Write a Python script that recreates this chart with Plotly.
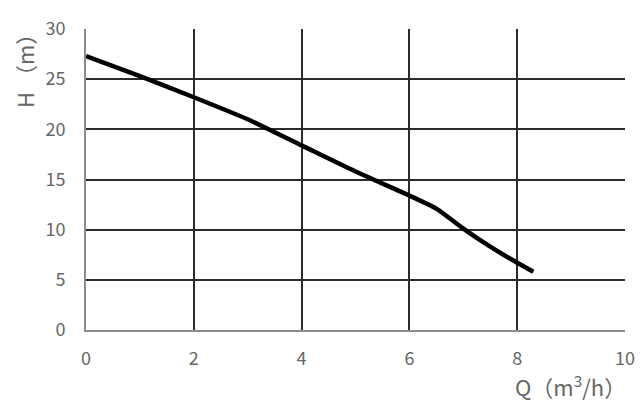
import plotly.graph_objects as go

flow_q = [0, 1, 2, 3, 4, 5, 6, 6.5, 7, 7.5, 8, 8.3]
head_h = [27.3, 25.3, 23.2, 21.0, 18.4, 15.8, 13.4, 12.1, 10.1, 8.3, 6.7, 5.8]
x_ticks = [0, 2, 4, 6, 8, 10]
y_ticks = [0, 5, 10, 15, 20, 25, 30]

FONT = "Noto Sans CJK SC"
OFF = 8  # page body margin
W, H = 644 - OFF, 405 - OFF
L, R, T, B = 86 - OFF, 19, 29 - OFF, 75
PW, PH = W - L - R, H - T - B

fig = go.Figure()
fig.add_trace(go.Scatter(x=flow_q, y=head_h, mode="lines",
                         line=dict(color="black", width=4.5, shape="spline", smoothing=0.6),
                         hoverinfo="skip", showlegend=False))

fig.update_layout(
    width=W, height=H,
    margin=dict(l=L, r=R, t=T, b=B, autoexpand=False),
    plot_bgcolor="white", paper_bgcolor="white",
    font=dict(family=FONT, size=18, color="#666666"),
    xaxis=dict(range=[0, 10], tickvals=x_ticks, showgrid=True, gridcolor="#2b2b2b", gridwidth=1.5,
               zeroline=False, showline=True, linecolor="#8c8c8c", linewidth=2,
               ticks="", ticklabelstandoff=11, tickfont=dict(size=18), fixedrange=True),
    yaxis=dict(range=[0, 30], tickvals=y_ticks, showgrid=True, gridcolor="#2b2b2b", gridwidth=1.5,
               zeroline=False, showline=True, linecolor="#8c8c8c", linewidth=2,
               ticks="", ticklabelstandoff=15, tickfont=dict(size=18), fixedrange=True),
    annotations=[
        dict(text="Q（m<sup>3</sup>/h）", xref="paper", yref="paper",
             x=(628 - 86) / PW, y=-(385 - 330) / PH,
             xanchor="right", yanchor="middle", showarrow=False,
             font=dict(family=FONT, size=22, color="#666666")),
        dict(text="H （m）", xref="paper", yref="paper",
             x=-(86 - 24) / PW, y=(330 - 66) / PH,
             xanchor="center", yanchor="middle", textangle=-90, showarrow=False,
             font=dict(family=FONT, size=22, color="#666666")),
    ],
)

fig.write_html("out.html")
